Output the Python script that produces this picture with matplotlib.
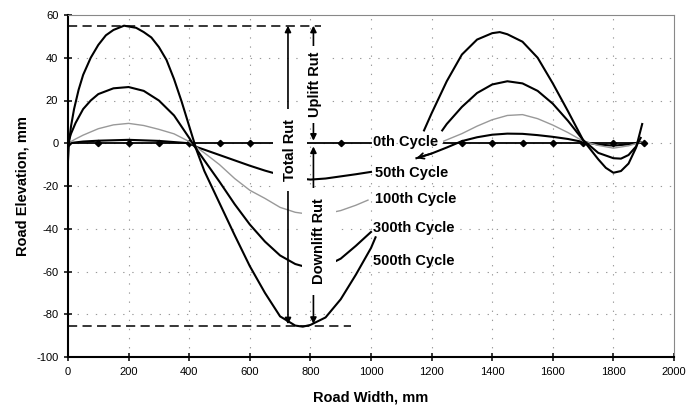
import matplotlib
matplotlib.use("Agg")
import matplotlib.pyplot as plt
import numpy as np

plt.rcParams['font.family'] = ['Liberation Sans', 'DejaVu Sans']
plt.rcParams['axes.unicode_minus'] = False

## DATI ##
# 0th cycle: linea a quota zero con marcatori
x0_line_left = [0, 1000]
x0_line_right = [1240, 1900]
x0_marks = [0, 100, 200, 300, 400, 500, 600, 900, 1300, 1400, 1500, 1600, 1700, 1800, 1900]

# 50th cycle
x50_left = [0, 50, 100, 200, 300, 400, 425, 450, 500, 550, 600, 650, 700, 750, 800, 850, 900, 950, 1000]
y50_left = [0, 0.8, 1.2, 1.6, 1.1, 0, -1.8, -3, -5.5, -8, -10.5, -12.8, -14.8, -16.3, -17, -16.5, -15.5, -14.5, -13.4]
x50_right = [1150, 1200, 1250, 1300, 1350, 1400, 1450, 1500, 1550, 1600, 1650, 1700, 1750, 1800, 1850, 1890]
y50_right = [-7, -4.8, -2, 1, 2.8, 4, 4.5, 4.4, 3.8, 3, 2, 0.6, -0.6, -1.1, -0.5, 0.5]

# 100th cycle
x100_left = [0, 25, 50, 100, 150, 200, 250, 300, 350, 400, 425, 450, 500, 550, 600, 650, 700, 750, 800, 850, 900, 950, 990]
y100_left = [0, 2, 3.8, 6.8, 8.6, 9.3, 8.3, 6.5, 4.4, 0.8, -2, -4.5, -10, -16.5, -22, -25.8, -30, -32.3, -33.3, -33, -31.5, -29, -26.6]
x100_right = [1240, 1300, 1350, 1400, 1450, 1500, 1550, 1600, 1650, 1700, 1750, 1800, 1850, 1890]
y100_right = [1, 4.5, 8, 11, 13, 13.4, 11.5, 8.5, 5, 1, -1, -2.3, -1.2, 0.5]

# 300th cycle
x300_left = [0, 10, 25, 50, 75, 100, 150, 200, 250, 300, 350, 400, 420, 450, 500, 550, 600, 650, 700, 750, 800, 850, 900, 950, 1000]
y300_left = [0, 4.5, 9.5, 16, 20, 23, 25.7, 26.3, 24.5, 20, 13, 2.5, -2, -8, -18, -28.5, -38, -46, -52.5, -56.5, -58.5, -57.5, -54, -48, -41.5]
x300_right = [1235, 1250, 1300, 1350, 1400, 1450, 1500, 1550, 1600, 1650, 1700, 1750, 1800, 1825, 1850, 1875, 1890]
y300_right = [6, 9, 17, 23.5, 27.5, 29, 28, 24.5, 18.5, 10.5, 1.5, -4.5, -7, -7.2, -5.5, -1.5, 2.5]

# 500th cycle
x500_left = [0, 3, 10, 20, 35, 50, 75, 100, 125, 150, 185, 225, 250, 275, 300, 325, 350, 375, 400, 425, 450,
             500, 550, 600, 650, 700, 750, 775, 800, 850, 900, 950, 1000, 1015]
y500_left = [-8, 0, 8, 16, 25, 32, 40, 46, 50.5, 53, 55, 54, 52, 49.5, 45, 39, 30, 19.5, 8, -3.5, -13,
             -28, -43, -57.5, -70, -81, -85.3, -85.8, -85, -81.5, -73, -61.5, -49, -44]
x500_right = [1175, 1200, 1250, 1300, 1350, 1400, 1425, 1450, 1500, 1550, 1600, 1650, 1700, 1750, 1775, 1800, 1825, 1850, 1875, 1895]
y500_right = [6, 14, 29, 41.5, 48.5, 51.5, 52, 51, 47.5, 40, 28, 15, 1.5, -7.5, -11.5, -13.8, -13, -9.5, -2, 9]

# etichette delle curve
cycle_labels = ['0th Cycle', '50th Cycle', '100th Cycle', '300th Cycle', '500th Cycle']
label_x = [1007, 1013, 1013, 1007, 1007]
label_y = [0.5, -14, -26, -39.7, -55]

# quote dei rut
uplift_max = 55
downlift_min = -85.5
x_total = 726
x_updown = 810

## FIGURA ##
fig = plt.figure(figsize=(6.98, 4.07), dpi=100)
ax = fig.add_axes([68/698, 1-357/407, (674-68)/698, (357-15)/407])

ax.set_xlim(0, 2000)
ax.set_ylim(-100, 60)
ax.set_xticks(np.arange(0, 2001, 200))
ax.set_yticks(np.arange(-100, 61, 20))
ax.tick_params(direction='inout', length=6, width=1.1, labelsize=8, pad=4)

# griglia puntinata
for gx in range(200, 2000, 200):
    ax.axvline(gx, color='#999999', lw=0.8, ls=(0, (1.2, 7)), zorder=0)
for gy in range(-80, 60, 20):
    ax.axhline(gy, color='#999999', lw=0.8, ls=(0, (1.2, 7)), zorder=0)

ax.spines['left'].set_linewidth(1.5)
ax.spines['bottom'].set_linewidth(1.5)
ax.spines['top'].set_color('#888888')
ax.spines['top'].set_linewidth(0.8)
ax.spines['right'].set_color('#888888')
ax.spines['right'].set_linewidth(0.8)

# curve
ax.plot(x0_line_left, [0, 0], color='black', lw=1.3, zorder=2)
ax.plot(x0_line_right, [0, 0], color='black', lw=1.3, zorder=2)
ax.plot(x0_marks, np.zeros(len(x0_marks)), ls='none', marker='D', ms=3.2, color='black', zorder=2)

ax.plot(x50_left, y50_left, color='black', lw=1.5, zorder=2)
ax.plot(x50_right, y50_right, color='black', lw=1.5, zorder=2)
ax.annotate('', xy=(x50_right[0], y50_right[0]), xytext=(x50_right[1], y50_right[1]),
            arrowprops=dict(arrowstyle='->', lw=1.3, color='black', shrinkA=0, shrinkB=0), zorder=2)

ax.plot(x100_left, y100_left, color='#999999', lw=1.0, zorder=2)
ax.plot(x100_right, y100_right, color='#999999', lw=1.0, zorder=2)

ax.plot(x300_left, y300_left, color='black', lw=1.5, zorder=2)
ax.plot(x300_right, y300_right, color='black', lw=1.5, zorder=2)

ax.plot(x500_left, y500_left, color='black', lw=1.5, zorder=2)
ax.plot(x500_right, y500_right, color='black', lw=1.5, zorder=2)

# linee tratteggiate di riferimento
ax.plot([0, 835], [uplift_max, uplift_max], color='black', lw=1.1, ls=(0, (6, 3.5)), zorder=2)
ax.plot([0, 935], [downlift_min, downlift_min], color='black', lw=1.1, ls=(0, (6, 3.5)), zorder=2)

# frecce
arr = dict(arrowstyle='<|-|>', mutation_scale=9, lw=1.2, color='black', shrinkA=0, shrinkB=0)
ax.annotate('', xy=(x_total, uplift_max), xytext=(x_total, downlift_min + 0.8), arrowprops=arr, zorder=3)
ax.annotate('', xy=(x_updown, uplift_max), xytext=(x_updown, 1.2), arrowprops=arr, zorder=3)
ax.annotate('', xy=(x_updown, -1.5), xytext=(x_updown, downlift_min + 1), arrowprops=arr, zorder=3)

box = dict(boxstyle='square,pad=0.7', fc='white', ec='none')
ax.text(x_total + 6, -3, 'Total Rut', rotation=90, ha='center', va='center',
        fontsize=10.5, fontweight='bold', bbox=box, zorder=4)
ax.text(x_updown + 5, 27.5, 'Uplift Rut', rotation=90, ha='center', va='center',
        fontsize=10.5, fontweight='bold', bbox=dict(boxstyle='square,pad=0.4', fc='white', ec='none'), zorder=4)
ax.text(x_updown + 18, -46, 'Downlift Rut', rotation=90, ha='center', va='center',
        fontsize=10.5, fontweight='bold', bbox=box, zorder=4)

for lab, lx, ly in zip(cycle_labels, label_x, label_y):
    ax.text(lx, ly, lab, ha='left', va='center', fontsize=10.5, fontweight='bold', zorder=4)

ax.set_xlabel('Road Width, mm', fontsize=10.5, fontweight='bold', labelpad=10)
ax.set_ylabel('Road Elevation, mm', fontsize=10.5, fontweight='bold', labelpad=5)

fig.savefig('out.png', dpi=100)
